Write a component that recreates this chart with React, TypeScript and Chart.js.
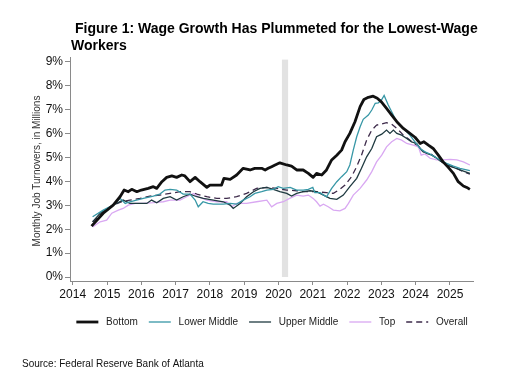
import React, { useEffect, useRef } from 'react';
import { Chart, registerables } from 'chart.js';

Chart.register(...registerables);

const FONT = "'Liberation Sans', Arial, Helvetica, sans-serif";

// ---- Data (decimal years, percent) ----
const bottomYears = [2014.55, 2014.89, 2015.18, 2015.38, 2015.5, 2015.62, 2015.72, 2015.87, 2016.0, 2016.2, 2016.35, 2016.45, 2016.6, 2016.74, 2016.89, 2017.03, 2017.18, 2017.27, 2017.42, 2017.57, 2017.71, 2017.91, 2018.0, 2018.2, 2018.34, 2018.41, 2018.59, 2018.78, 2018.97, 2019.17, 2019.31, 2019.51, 2019.61, 2019.7, 2019.8, 2019.9, 2020.04, 2020.24, 2020.38, 2020.53, 2020.72, 2020.87, 2021.01, 2021.11, 2021.26, 2021.4, 2021.55, 2021.7, 2021.84, 2021.94, 2022.08, 2022.23, 2022.38, 2022.49, 2022.62, 2022.76, 2022.88, 2023.0, 2023.15, 2023.3, 2023.45, 2023.64, 2023.83, 2023.98, 2024.13, 2024.24, 2024.37, 2024.51, 2024.66, 2024.8, 2024.95, 2025.1, 2025.24, 2025.39, 2025.49, 2025.58];
const bottomValues = [2.13, 2.67, 3.01, 3.36, 3.64, 3.57, 3.67, 3.57, 3.64, 3.71, 3.78, 3.71, 3.99, 4.17, 4.23, 4.17, 4.27, 4.23, 3.99, 4.17, 3.99, 3.75, 3.85, 3.85, 3.85, 4.13, 4.09, 4.27, 4.55, 4.48, 4.55, 4.55, 4.48, 4.55, 4.62, 4.69, 4.78, 4.69, 4.64, 4.48, 4.48, 4.34, 4.17, 4.34, 4.27, 4.48, 4.9, 5.1, 5.31, 5.66, 6.01, 6.5, 7.13, 7.43, 7.52, 7.57, 7.48, 7.33, 7.06, 6.78, 6.5, 6.22, 6.01, 5.85, 5.59, 5.66, 5.52, 5.38, 5.1, 4.82, 4.59, 4.34, 3.99, 3.81, 3.75, 3.67];

const lowerMidYears = [2014.58, 2014.89, 2015.18, 2015.38, 2015.53, 2015.67, 2015.86, 2016.06, 2016.35, 2016.54, 2016.69, 2016.84, 2017.03, 2017.22, 2017.42, 2017.57, 2017.66, 2017.8, 2017.95, 2018.1, 2018.39, 2018.59, 2018.78, 2018.97, 2019.17, 2019.31, 2019.51, 2019.66, 2019.85, 2019.99, 2020.14, 2020.34, 2020.53, 2020.72, 2020.87, 2021.0, 2021.06, 2021.21, 2021.4, 2021.55, 2021.7, 2021.84, 2021.99, 2022.08, 2022.18, 2022.28, 2022.38, 2022.47, 2022.62, 2022.72, 2022.82, 2022.91, 2023.01, 2023.08, 2023.2, 2023.3, 2023.42, 2023.54, 2023.69, 2023.83, 2023.98, 2024.13, 2024.27, 2024.42, 2024.56, 2024.71, 2024.9, 2025.1, 2025.29, 2025.58];
const lowerMidValues = [2.52, 2.8, 3.01, 3.29, 3.08, 3.15, 3.22, 3.29, 3.39, 3.47, 3.64, 3.67, 3.64, 3.47, 3.47, 3.22, 2.94, 3.15, 3.08, 3.05, 3.05, 3.08, 3.05, 3.22, 3.36, 3.5, 3.57, 3.64, 3.67, 3.78, 3.71, 3.75, 3.64, 3.64, 3.67, 3.75, 3.53, 3.53, 3.36, 3.71, 3.99, 4.2, 4.41, 4.69, 5.31, 5.87, 6.29, 6.6, 6.78, 6.99, 7.27, 7.29, 7.43, 7.6, 7.2, 6.92, 6.57, 6.36, 6.15, 5.94, 5.66, 5.38, 5.24, 5.15, 5.03, 4.9, 4.76, 4.64, 4.55, 4.45];

const upperMidYears = [2014.58, 2014.8, 2015.09, 2015.28, 2015.47, 2015.67, 2015.86, 2016.16, 2016.3, 2016.45, 2016.64, 2016.84, 2017.03, 2017.22, 2017.42, 2017.62, 2017.81, 2018.1, 2018.39, 2018.59, 2018.68, 2018.88, 2019.07, 2019.27, 2019.46, 2019.66, 2019.85, 2020.04, 2020.24, 2020.38, 2020.53, 2020.72, 2020.92, 2021.11, 2021.31, 2021.5, 2021.7, 2021.89, 2022.08, 2022.28, 2022.42, 2022.57, 2022.72, 2022.86, 2023.01, 2023.15, 2023.25, 2023.35, 2023.45, 2023.59, 2023.74, 2023.88, 2024.03, 2024.17, 2024.32, 2024.47, 2024.61, 2024.76, 2024.9, 2025.1, 2025.29, 2025.58];
const upperMidValues = [2.31, 2.67, 2.94, 3.08, 3.22, 3.08, 3.08, 3.08, 3.22, 3.11, 3.29, 3.36, 3.22, 3.36, 3.47, 3.36, 3.29, 3.22, 3.15, 3.01, 2.87, 3.08, 3.36, 3.57, 3.71, 3.75, 3.67, 3.57, 3.5, 3.39, 3.5, 3.57, 3.61, 3.57, 3.43, 3.29, 3.25, 3.43, 3.78, 4.13, 4.55, 5.03, 5.38, 5.87, 5.98, 6.15, 6.01, 6.15, 6.01, 5.94, 5.8, 5.66, 5.59, 5.31, 5.17, 5.1, 4.97, 4.82, 4.69, 4.59, 4.48, 4.34];

const topYears = [2014.58, 2014.8, 2014.99, 2015.14, 2015.33, 2015.47, 2015.62, 2015.82, 2016.06, 2016.35, 2016.64, 2016.84, 2017.13, 2017.32, 2017.52, 2017.66, 2017.91, 2018.2, 2018.49, 2018.64, 2018.78, 2019.07, 2019.36, 2019.66, 2019.8, 2019.95, 2020.14, 2020.34, 2020.53, 2020.72, 2020.87, 2021.01, 2021.11, 2021.21, 2021.31, 2021.45, 2021.6, 2021.79, 2021.94, 2022.04, 2022.18, 2022.38, 2022.57, 2022.72, 2022.86, 2023.01, 2023.15, 2023.3, 2023.45, 2023.59, 2023.74, 2023.93, 2024.08, 2024.16, 2024.27, 2024.42, 2024.61, 2024.8, 2025.0, 2025.2, 2025.39, 2025.58];
const topValues = [2.1, 2.31, 2.38, 2.67, 2.8, 2.87, 3.01, 3.08, 3.08, 3.11, 3.15, 3.22, 3.22, 3.36, 3.5, 3.36, 3.22, 3.15, 3.15, 2.94, 3.08, 3.08, 3.15, 3.22, 2.94, 3.08, 3.15, 3.3, 3.43, 3.39, 3.43, 3.29, 3.15, 2.97, 3.05, 2.94, 2.8, 2.77, 2.87, 3.08, 3.43, 3.71, 4.06, 4.41, 4.82, 5.1, 5.45, 5.66, 5.8, 5.73, 5.59, 5.52, 5.45, 5.1, 5.15, 4.97, 4.9, 4.9, 4.92, 4.9, 4.82, 4.69];

const overallYears = [2014.58, 2014.89, 2015.18, 2015.43, 2015.67, 2015.96, 2016.25, 2016.54, 2016.84, 2017.13, 2017.42, 2017.62, 2017.91, 2018.2, 2018.49, 2018.78, 2019.07, 2019.36, 2019.66, 2019.95, 2020.24, 2020.53, 2020.72, 2021.11, 2021.4, 2021.6, 2021.79, 2021.94, 2022.13, 2022.28, 2022.42, 2022.57, 2022.72, 2022.86, 2023.01, 2023.15, 2023.3, 2023.45, 2023.64, 2023.83, 2024.03, 2024.22, 2024.42, 2024.61, 2024.8, 2025.0, 2025.2, 2025.39, 2025.58];
const overallValues = [2.31, 2.73, 3.01, 3.15, 3.22, 3.29, 3.39, 3.43, 3.5, 3.57, 3.57, 3.47, 3.36, 3.29, 3.29, 3.36, 3.5, 3.71, 3.75, 3.71, 3.64, 3.61, 3.57, 3.57, 3.53, 3.5, 3.67, 3.85, 4.2, 4.62, 5.1, 5.73, 6.15, 6.36, 6.4, 6.46, 6.4, 6.22, 5.94, 5.73, 5.52, 5.24, 5.17, 4.97, 4.78, 4.64, 4.55, 4.41, 4.31];

const seriesLabels = ['Bottom', 'Lower Middle', 'Upper Middle', 'Top', 'Overall'];
const yTickValues = [0, 1, 2, 3, 4, 5, 6, 7, 8, 9];
const xTickValues = [2014, 2015, 2016, 2017, 2018, 2019, 2020, 2021, 2022, 2023, 2024, 2025];
const recessionStart = 2020.1;
const recessionEnd = 2020.28;
const titleLines = ['Figure 1: Wage Growth Has Plummeted for the Lowest-Wage', 'Workers'];
const yAxisTitle = 'Monthly Job Turnovers, in Millions';
const sourceText = 'Source: Federal Reserve Bank of Atlanta';

const toPoints = (xs: number[], ys: number[]) => xs.map((x, i) => ({ x, y: ys[i] }));

const decorPlugin = {
  id: 'decor',
  beforeDatasetsDraw(chart: any) {
    const { ctx, scales } = chart;
    const xs = scales.x;
    const ys = scales.y;
    const x0 = xs.getPixelForValue(recessionStart);
    const x1 = xs.getPixelForValue(recessionEnd);
    const yTop = ys.getPixelForValue(9.1);
    const yBot = ys.getPixelForValue(0);
    ctx.save();
    ctx.fillStyle = '#e2e2e2';
    ctx.fillRect(x0, yTop, x1 - x0, yBot - yTop);
    ctx.restore();
  },
  afterDraw(chart: any) {
    const { ctx } = chart;
    ctx.save();
    ctx.fillStyle = '#000';
    ctx.font = `bold 14px ${FONT}`;
    ctx.textAlign = 'left';
    ctx.textBaseline = 'alphabetic';
    ctx.fillText(titleLines[0], 75, 33);
    ctx.fillText(titleLines[1], 71, 50);

    ctx.font = `10px ${FONT}`;
    ctx.fillStyle = '#111';
    ctx.textBaseline = 'middle';
    ctx.fillText(sourceText, 22, 364);

    ctx.translate(37, 171);
    ctx.rotate(-Math.PI / 2);
    ctx.textAlign = 'center';
    ctx.fillStyle = '#333';
    ctx.fillText(yAxisTitle, 0, 0);
    ctx.restore();
  },
};

export default function App() {
  const canvasRef = useRef<HTMLCanvasElement | null>(null);

  useEffect(() => {
    document.body.style.margin = '0';
    const canvas = canvasRef.current;
    if (!canvas) return;
    Chart.defaults.font.family = FONT;
    Chart.defaults.color = '#222';

    const chart = new Chart(canvas, {
      type: 'line',
      data: {
        datasets: [
          { label: seriesLabels[0], data: toPoints(bottomYears, bottomValues), borderColor: '#111111', borderWidth: 2.8, pointRadius: 0, tension: 0, borderJoinStyle: 'round' },
          { label: seriesLabels[1], data: toPoints(lowerMidYears, lowerMidValues), borderColor: '#3797a6', borderWidth: 1.3, pointRadius: 0, tension: 0 },
          { label: seriesLabels[2], data: toPoints(upperMidYears, upperMidValues), borderColor: '#1f3a40', borderWidth: 1.3, pointRadius: 0, tension: 0 },
          { label: seriesLabels[3], data: toPoints(topYears, topValues), borderColor: '#d9a8f2', borderWidth: 1.3, pointRadius: 0, tension: 0 },
          { label: seriesLabels[4], data: toPoints(overallYears, overallValues), borderColor: '#3d2a4a', borderWidth: 1.3, borderDash: [6, 4], pointRadius: 0, tension: 0 },
        ],
      } as any,
      options: {
        responsive: false,
        animation: false,
        events: [],
        layout: { padding: { top: 57, left: 32, right: 0, bottom: 35 } },
        scales: {
          x: {
            type: 'linear',
            min: 2013.921,
            max: 2025.671,
            afterBuildTicks: (s: any) => { s.ticks = xTickValues.map((v) => ({ value: v })); },
            afterFit: (s: any) => { s.height = 25; },
            ticks: { callback: (v: any) => String(v), font: { size: 12 }, color: '#111', maxRotation: 0, autoSkip: false, padding: 2 },
            grid: { display: true, drawOnChartArea: false, drawTicks: true, tickLength: 4, color: '#8a8a8a' },
            border: { display: true, color: '#8a8a8a' },
          },
          y: {
            type: 'linear',
            min: -0.167,
            max: 9.209,
            afterBuildTicks: (s: any) => { s.ticks = yTickValues.map((v) => ({ value: v })); },
            afterFit: (s: any) => { s.width = 38; },
            ticks: { callback: (v: any) => v + '%', font: { size: 12 }, color: '#111', padding: 2 },
            grid: { display: true, drawOnChartArea: false, drawTicks: true, tickLength: 5, color: '#8a8a8a' },
            border: { display: true, color: '#8a8a8a' },
          },
          yRight: {
            type: 'linear',
            position: 'right',
            display: true,
            afterFit: (s: any) => { s.width = 39; },
            ticks: { display: false },
            grid: { display: false },
            border: { display: false },
          },
        } as any,
        plugins: {
          tooltip: { enabled: false },
          title: { display: false },
          legend: {
            display: true,
            position: 'bottom',
            labels: {
              usePointStyle: true,
              pointStyle: 'line',
              pointStyleWidth: 22,
              padding: 11,
              color: '#222',
              font: { size: 10 },
              generateLabels: (c: any) =>
                (Chart.defaults.plugins.legend.labels.generateLabels as any)(c).map((it: any) => {
                  const ds = c.data.datasets[it.datasetIndex];
                  return {
                    ...it,
                    text: ' ' + it.text,
                    lineDash: ds.borderDash || [],
                    lineWidth: ds.borderWidth,
                    strokeStyle: ds.borderColor,
                  };
                }),
            },
          },
        },
      } as any,
      plugins: [decorPlugin],
    });
    return () => chart.destroy();
  }, []);

  return (
    <div style={{ width: 512, height: 372, background: '#fff' }}>
      <canvas ref={canvasRef} width={512} height={372} />
    </div>
  );
}
